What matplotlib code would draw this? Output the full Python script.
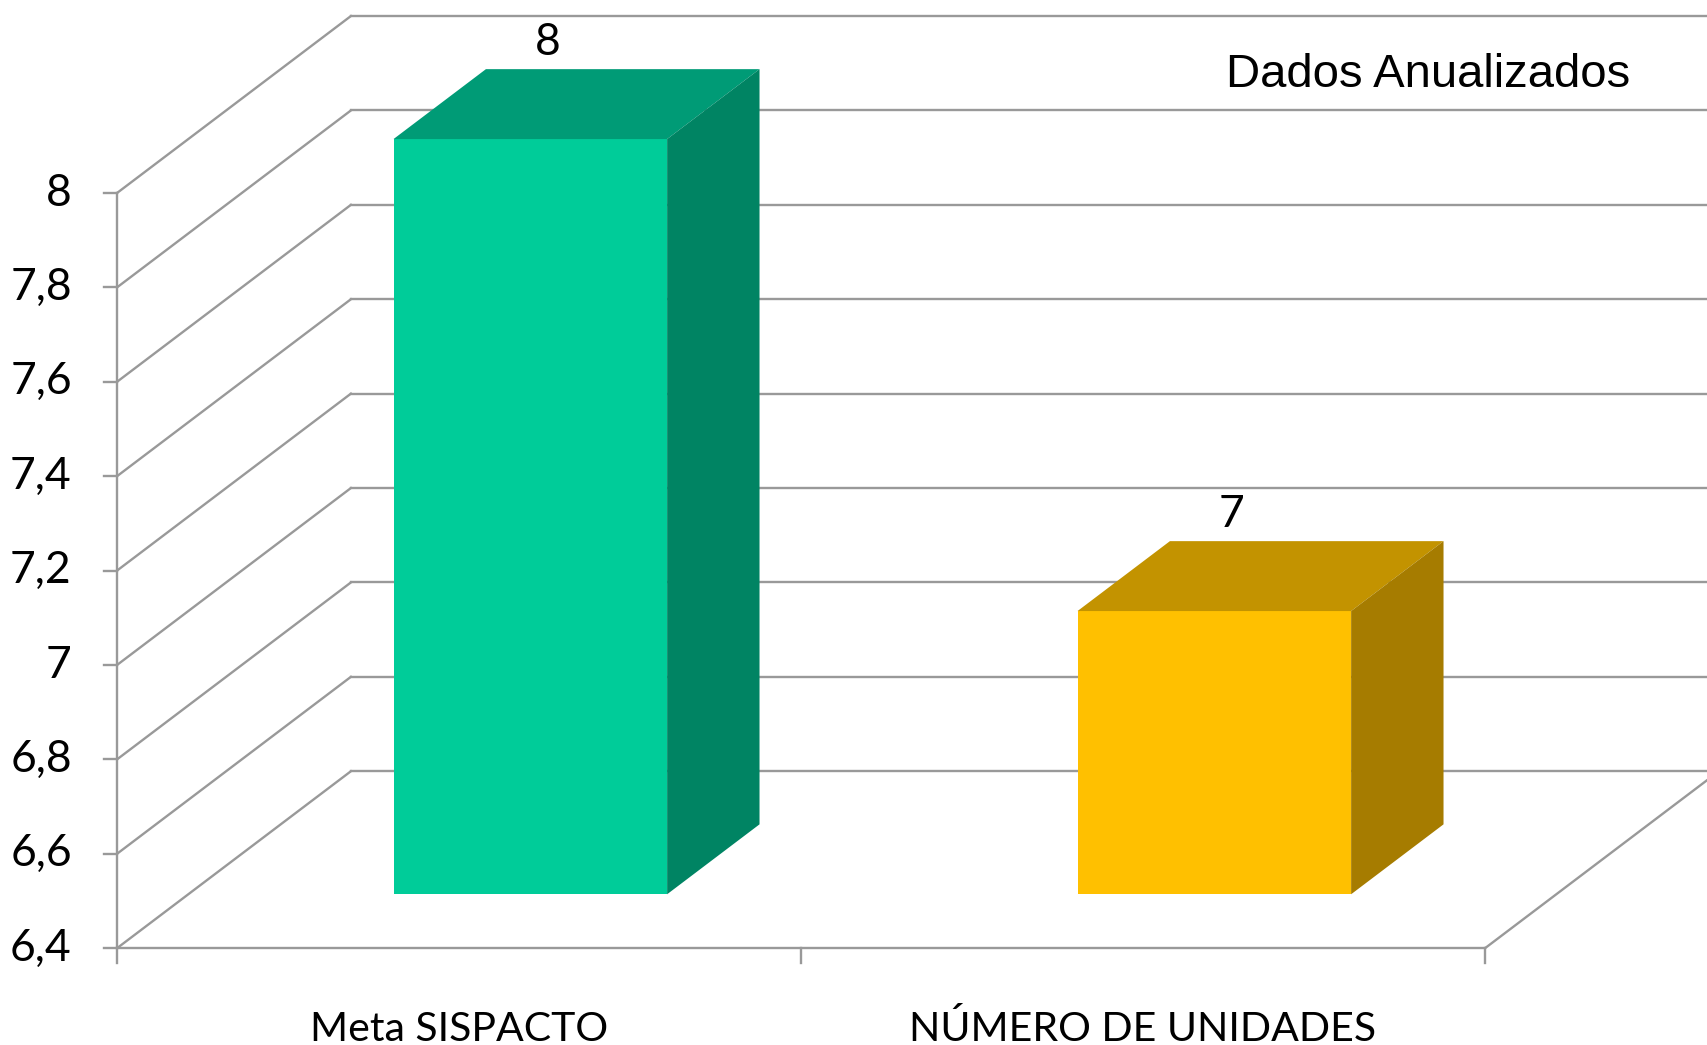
import matplotlib
matplotlib.use("Agg")
import matplotlib.pyplot as plt
from matplotlib.patches import Polygon

# chart data
categories = ["Meta SISPACTO", "NÚMERO DE UNIDADES"]
values = [8, 7]
yticks = [6.4, 6.6, 6.8, 7.0, 7.2, 7.4, 7.6, 7.8, 8.0]
ytick_labels = ["6,4", "6,6", "6,8", "7", "7,2", "7,4", "7,6", "7,8", "8"]
front_colors = ["#00CC99", "#FFC000"]
top_colors = ["#009B76", "#C39300"]
side_colors = ["#008463", "#A67C00"]

# fake 3d geometry (offsets of the back wall, in data units)
DX, DY = 0.342, 0.375
D0, D1 = 0.305, 0.70      # bar front / back depth as fraction of the box depth
W = 0.4                   # bar width
YMIN, YMAX = yticks[0], yticks[-1]
grid = "#999999"
lw = 1.7
num_font = "Lato"

fig = plt.figure(figsize=(17.07, 10.45), dpi=100)
ax = fig.add_axes([0, 0, 1, 1])
ax.set_xlim(-0.171, 2.3246)
ax.set_ylim(6.195, 8.409)
ax.axis("off")

ncat = len(categories)

# walls and gridlines
for v, lab in zip(yticks, ytick_labels):
    ax.plot([0, DX], [v, v + DY], color=grid, lw=lw, zorder=1)
    ax.plot([DX, ncat + DX + 1], [v + DY, v + DY], color=grid, lw=lw, zorder=1)
    ax.plot([-0.019, 0], [v, v], color=grid, lw=lw, zorder=1)
    ax.text(-0.066, v, lab, ha="right", va="center", fontsize=32,
            family=num_font, color="black")

ax.plot([0, 0], [YMIN, YMAX], color=grid, lw=lw, zorder=1)
ax.plot([0, ncat], [YMIN, YMIN], color=grid, lw=lw, zorder=1)
ax.plot([ncat, ncat + DX], [YMIN, YMIN + DY], color=grid, lw=lw, zorder=1)
for k in range(ncat + 1):
    ax.plot([k, k], [YMIN, YMIN - 0.032], color=grid, lw=lw, zorder=1)

# bars
ddx = (D1 - D0) * DX
ddy = (D1 - D0) * DY
for i, (cat, v) in enumerate(zip(categories, values)):
    c = i + 0.5
    x0 = c - W / 2 + D0 * DX
    x1 = c + W / 2 + D0 * DX
    yb = YMIN + D0 * DY
    yt = v + D0 * DY
    front = Polygon([(x0, yb), (x1, yb), (x1, yt), (x0, yt)], closed=True,
                    facecolor=front_colors[i], edgecolor="none", zorder=3)
    top = Polygon([(x0, yt), (x1, yt), (x1 + ddx, yt + ddy), (x0 + ddx, yt + ddy)],
                  closed=True, facecolor=top_colors[i], edgecolor="none", zorder=3)
    side = Polygon([(x1, yb), (x1, yt), (x1 + ddx, yt + ddy), (x1 + ddx, yb + ddy)],
                   closed=True, facecolor=side_colors[i], edgecolor="none", zorder=3)
    for p in (front, top, side):
        ax.add_patch(p)
    ax.text(c + 0.38 * DX, v + D1 * DY + 0.056, "%d" % v, ha="center", va="center",
            fontsize=32, family=num_font, color="black", zorder=4)
    ax.text(c, YMIN - 0.197, cat, ha="center", va="baseline", fontsize=29.5,
            family=num_font, color="black")

fig.text(0.8366, 0.9167, "Dados Anualizados", ha="center", va="baseline",
         fontsize=34, family="Liberation Sans", color="black")

fig.savefig("out.png", dpi=100, facecolor="white")
